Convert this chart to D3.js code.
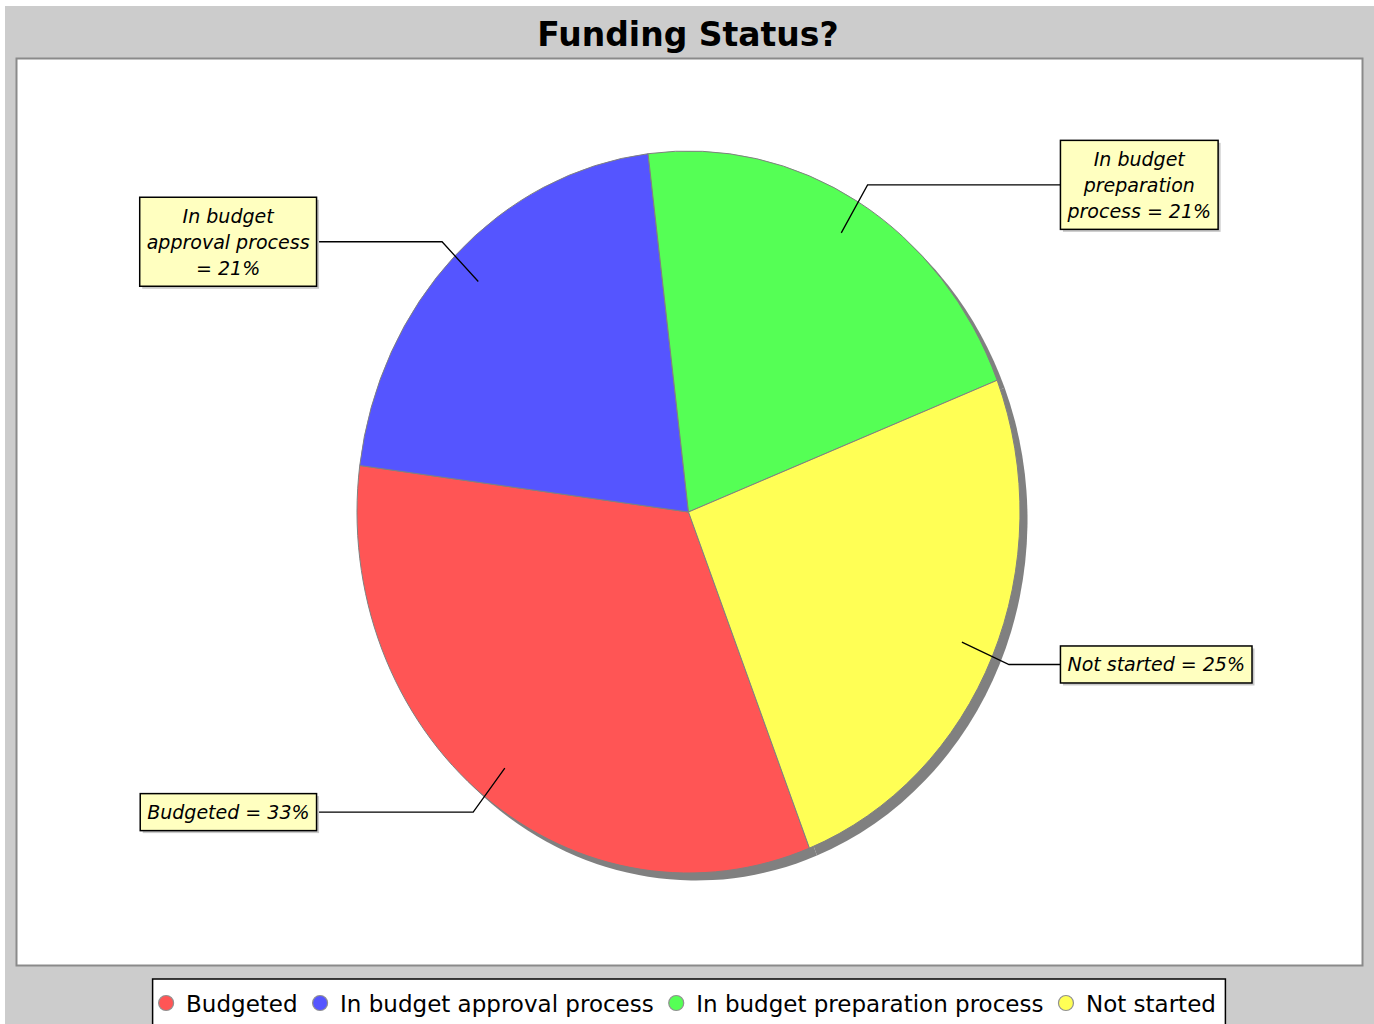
<!DOCTYPE html>
<html>
<head>
<meta charset="utf-8">
<script src="https://cdn.jsdelivr.net/npm/d3@7"></script>
<style>
  body { margin: 0; background: #ffffff; }
  svg { display: block; }
</style>
</head>
<body>
<svg id="pie" width="1374" height="1024"></svg>
<script>
// chart data
const title = 'Funding Status?';
const categories = ['Budgeted', 'In budget approval process', 'In budget preparation process', 'Not started'];
const percents = [33, 21, 21, 25];
const colors = ['#ff5555', '#5555ff', '#55ff55', '#ffff55'];

const svg = d3.select('#pie');
const width = +svg.attr('width');
const height = +svg.attr('height');

// chart frame and plot area
const frame = { x: 5, y: 6 };
const plot = { left: 16, top: 58, right: 1362, bottom: 965 };

// pie geometry (JFreeChart style: ellipse, clockwise)
const cx = 688.5, cy = 512;
const rx = 331.5, ry = 361;
const startDeg = 158.6;
const shadowOff = 7.5;
const labelFont = 19;
const maxLabelWidth = 179;

svg.append('rect')
    .attr('x', frame.x).attr('y', frame.y)
    .attr('width', width - frame.x).attr('height', height - frame.y)
    .attr('fill', '#cccccc');

svg.append('text')
    .attr('x', (plot.left + plot.right) / 2 - 1)
    .attr('y', 46)
    .attr('text-anchor', 'middle')
    .style('font-family', '"DejaVu Sans", sans-serif')
    .style('font-weight', 'bold')
    .style('font-size', '33px')
    .text(title);

svg.append('rect')
    .attr('x', plot.left + 0.5).attr('y', plot.top + 0.5)
    .attr('width', plot.right - plot.left).attr('height', plot.bottom - plot.top)
    .attr('fill', '#ffffff')
    .attr('stroke', '#8a8a8a')
    .attr('stroke-width', 2);

const data = categories.map((c, i) => ({ cat: c, value: percents[i], color: colors[i] }));

const a0 = startDeg * Math.PI / 180;
const pie = d3.pie()
    .sort(null)
    .value(d => d.value)
    .startAngle(a0)
    .endAngle(a0 + 2 * Math.PI);
const arcs = pie(data);

const arc = d3.arc().innerRadius(0).outerRadius(rx);

// shadow
svg.append('g')
    .attr('transform', `translate(${cx + shadowOff},${cy + shadowOff}) scale(1,${ry / rx})`)
    .selectAll('path')
    .data(arcs)
    .join('path')
    .attr('d', arc)
    .attr('fill', '#808080');

// slices
svg.append('g')
    .attr('transform', `translate(${cx},${cy}) scale(1,${ry / rx})`)
    .selectAll('path')
    .data(arcs)
    .join('path')
    .attr('d', arc)
    .attr('fill', d => d.data.color)
    .attr('stroke', '#808080')
    .attr('stroke-width', 1)
    .attr('vector-effect', 'non-scaling-stroke');

// point on the ellipse at angle a and fraction k of the radius
function onPie(a, k) {
    return [cx + k * rx * Math.sin(a), cy - k * ry * Math.cos(a)];
}

// wrap label text to the max width
const measure = svg.append('text')
    .style('font-family', '"DejaVu Sans", sans-serif')
    .style('font-style', 'italic')
    .style('font-size', labelFont + 'px');
function textWidth(s) {
    measure.text(s);
    return measure.node().getComputedTextLength();
}
function wrap(s) {
    const words = s.split(' ');
    const lines = [];
    let line = '';
    words.forEach(w => {
        const next = line ? line + ' ' + w : w;
        if (line && textWidth(next) > maxLabelWidth) {
            lines.push(line);
            line = w;
        } else {
            line = next;
        }
    });
    lines.push(line);
    return lines;
}

const labelGap = 1.122 * rx;
const lineH = 26;

const labels = svg.append('g');
arcs.forEach(d => {
    const mid = (d.startAngle + d.endAngle) / 2;
    const left = Math.sin(mid) < 0;
    const p0 = onPie(mid, 0.9);
    const p1 = onPie(mid, 1.055);
    const lines = wrap(`${d.data.cat} = ${d.data.value}%`);
    const boxW = d3.max(lines, textWidth) + 14;
    const boxH = lines.length * lineH + 11;
    const boxX = left ? cx - labelGap - boxW : cx + labelGap;
    const boxY = p1[1] - boxH / 2;
    const edgeX = left ? boxX + boxW : boxX;

    labels.append('path')
        .attr('d', d3.line()([p0, p1, [edgeX, p1[1]]]))
        .attr('fill', 'none')
        .attr('stroke', '#000000')
        .attr('stroke-width', 1.3);

    labels.append('rect')
        .attr('x', boxX + 2.5).attr('y', boxY + 2.5)
        .attr('width', boxW).attr('height', boxH)
        .attr('fill', '#c8c8c8');
    labels.append('rect')
        .attr('x', boxX).attr('y', boxY)
        .attr('width', boxW).attr('height', boxH)
        .attr('fill', '#ffffc0')
        .attr('stroke', '#000000')
        .attr('stroke-width', 1.5);

    const t = labels.append('text')
        .attr('text-anchor', 'middle')
        .style('font-family', '"DejaVu Sans", sans-serif')
        .style('font-style', 'italic')
        .style('font-size', labelFont + 'px');
    lines.forEach((s, i) => {
        t.append('tspan')
            .attr('x', boxX + boxW / 2)
            .attr('y', p1[1] + 7 + (i - (lines.length - 1) / 2) * lineH)
            .text(s);
    });
});
measure.remove();

// legend
const legendFont = 23;
const legendTop = 979;
const padL = 6, padR = 9.5, dotR = 7.5, textOff = 20, itemGap = 22.5;
const legend = svg.append('g');
const items = legend.selectAll('g.item')
    .data(data)
    .join('g')
    .attr('class', 'item');
items.append('circle')
    .attr('r', dotR)
    .attr('cy', 1003)
    .attr('fill', d => d.color)
    .attr('stroke', '#909090')
    .attr('stroke-width', 1.2);
items.append('text')
    .attr('y', 1012)
    .style('font-family', '"DejaVu Sans", sans-serif')
    .style('font-size', legendFont + 'px')
    .text(d => d.cat);

// lay items out left to right, then centre the box
let x = padL + dotR;
const centres = [];
let lastEnd = 0;
items.each(function() {
    const w = d3.select(this).select('text').node().getComputedTextLength();
    centres.push(x);
    lastEnd = x + textOff + w;
    x = lastEnd + itemGap;
});
const boxW = lastEnd + padR;
const legendLeft = (plot.left + plot.right) / 2 - boxW / 2;
items.each(function(d, i) {
    const g = d3.select(this);
    g.select('circle').attr('cx', legendLeft + centres[i]);
    g.select('text').attr('x', legendLeft + centres[i] + textOff);
});
legend.insert('rect', 'g')
    .attr('x', legendLeft).attr('y', legendTop)
    .attr('width', boxW).attr('height', 60)
    .attr('fill', '#ffffff')
    .attr('stroke', '#000000')
    .attr('stroke-width', 1.5);
</script>
</body>
</html>
